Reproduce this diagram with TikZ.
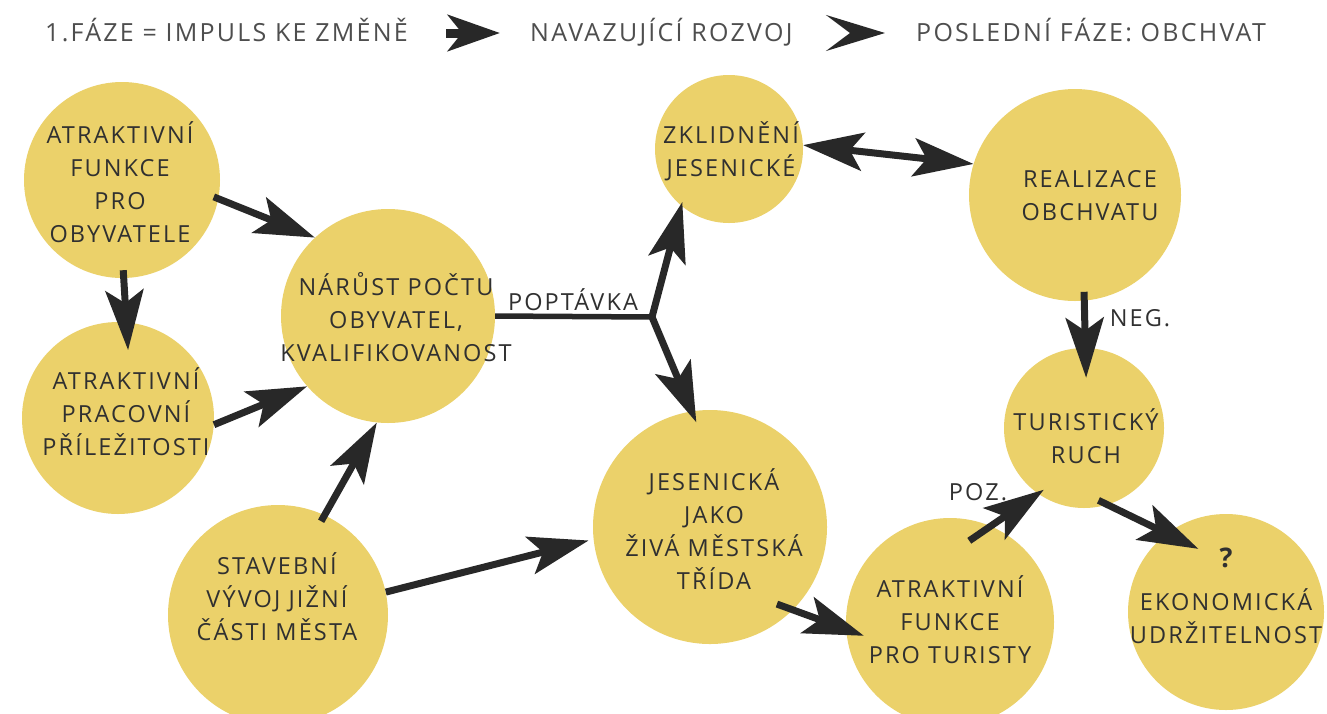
\documentclass[tikz,border=0pt]{standalone}
\usepackage{fontspec}
\setmainfont[LetterSpace=9]{Open Sans}
\usetikzlibrary{arrows.meta}

\definecolor{discfill}{RGB}{235,209,106}
\definecolor{ink}{RGB}{48,48,48}
\definecolor{headink}{RGB}{78,78,78}
\definecolor{arrowink}{RGB}{40,40,40}

\tikzset{
  disc/.style={circle, fill=discfill, draw=none, inner sep=0pt, minimum size=#1},
  lbl/.style={text=ink, align=center, inner sep=0pt,
              font=\fontsize{23.5}{33}\selectfont},
  headtext/.style={text=headink, anchor=west, inner sep=0pt,
              text height=17.5pt, text depth=0pt,
              font=\fontsize{25}{30}\selectfont},
  conn/.style={draw=arrowink, line width=7pt, -{Stealth[length=60pt, width=38pt, inset=13pt]}},
  dconn/.style={draw=arrowink, line width=7pt,
              {Stealth[length=60pt, width=38pt, inset=13pt]}-{Stealth[length=60pt, width=38pt, inset=13pt]}},
  trunk/.style={draw=arrowink, line width=5.5pt},
  phaseA/.style={draw=arrowink, line width=9pt,
              -{Stealth[length=52pt, width=36pt, inset=14pt]}},
  phaseB/.style={draw=arrowink, line width=4pt,
              -{Stealth[length=59pt, width=36pt, inset=24pt]}},
}

\begin{document}
\begin{tikzpicture}[x=1pt, y=-1pt]
  \useasboundingbox (0,0) rectangle (1327,713);
  \fill[white] (0,0) rectangle (1327,713);

  % phase headline
  \node[headtext] (h1) at (45,33) {1.FÁZE = IMPULS KE ZMĚNĚ};
  \node[headtext] (h2) at (530,33) {NAVAZUJÍCÍ ROZVOJ};
  \node[headtext] (h3) at (916,33) {POSLEDNÍ FÁZE: OBCHVAT};
  \draw[phaseA, shorten <=38pt, shorten >=30pt] (h1.east) -- (h2.west);
  \draw[phaseB, shorten <=60pt, shorten >=31pt] (h2.east) -- (h3.west);

  % discs
  \node[disc=196pt] (c1)  at (122,180)  {};
  \node[disc=192pt] (c2)  at (118,418)  {};
  \node[disc=214pt] (c3)  at (388,316)  {};
  \node[disc=220pt] (c4)  at (278,615)  {};
  \node[disc=148pt] (c5)  at (729,149)  {};
  \node[disc=212pt] (c6)  at (1075,195) {};
  \node[disc=234pt] (c7)  at (710,527)  {};
  \node[disc=160pt] (c8)  at (1084,428) {};
  \node[disc=208pt] (c9)  at (950,622)  {};
  \node[disc=196pt] (c10) at (1226,612) {};

  % branching demand line
  \coordinate (fork) at (652,317);
  \draw[trunk] (c3.east) -- (fork);
  \draw[conn, shorten >=-4pt] (fork) -- (c5.230);
  \draw[conn, shorten >=-12pt] (fork) -- (c7.99);

  % connectors
  \draw[conn, shorten <=-5pt] (c1.-11) -- (c3.133);
  \draw[conn, shorten <=-8pt, shorten >=-28pt] (c1.-89) -- (c2.85);
  \draw[conn] (c2.-4) -- (c3.221);
  \draw[conn, shorten <=-7pt] (c4.65) -- (c3.264);
  \draw[conn, shorten >=5pt] (c4.12) -- (c7.186);
  \draw[dconn] (c5.3) -- (c6.163);
  \draw[conn, shorten <=-9pt, shorten >=-30pt] (c6.-85) -- (c8.89);
  \draw[conn, shorten <=-17pt, shorten >=-19pt] (c7.-45) -- (c9.184);
  \draw[conn, shorten <=-26pt, shorten >=-7pt] (c9.67) -- (c8.235);
  \draw[conn, shorten <=-10pt, shorten >=-35pt] (c8.-73) -- (c10.127);

  % disc texts
  \node[lbl] (t1)  at (120,182)  {ATRAKTIVNÍ\\FUNKCE\\PRO\\OBYVATELE};
  \node[lbl] (t2)  at (126,412)  {ATRAKTIVNÍ\\PRACOVNÍ\\PŘÍLEŽITOSTI};
  \node[lbl] (t3)  at (396,317)  {NÁRŮST POČTU\\OBYVATEL,\\KVALIFIKOVANOST};
  \node[lbl] (t4)  at (277,597)  {STAVEBNÍ\\VÝVOJ JIŽNÍ\\ČÁSTI MĚSTA};
  \node[lbl] (t5)  at (731,151)  {ZKLIDNĚNÍ\\JESENICKÉ};
  \node[lbl] (t6)  at (1090,196) {REALIZACE\\OBCHVATU};
  \node[lbl] (t7)  at (714,529)  {JESENICKÁ\\JAKO\\ŽIVÁ MĚSTSKÁ\\TŘÍDA};
  \node[lbl] (t8)  at (1086,436) {TURISTICKÝ\\RUCH};
  \node[lbl] (t9)  at (950,620)  {ATRAKTIVNÍ\\FUNKCE\\PRO TURISTY};
  \node[lbl, font=\fontsize{27}{30}\selectfont\bfseries] (q) at (1226,558) {?};
  \node[lbl] (t10) at (1226,616) {EKONOMICKÁ\\UDRŽITELNOST};

  % connector labels
  \node[lbl] (poptavka) at (573,300)  {POPTÁVKA};
  \node[lbl] (neg)      at (1140,318) {NEG.};
  \node[lbl] (poz)      at (978,492)  {POZ.};
\end{tikzpicture}
\end{document}
